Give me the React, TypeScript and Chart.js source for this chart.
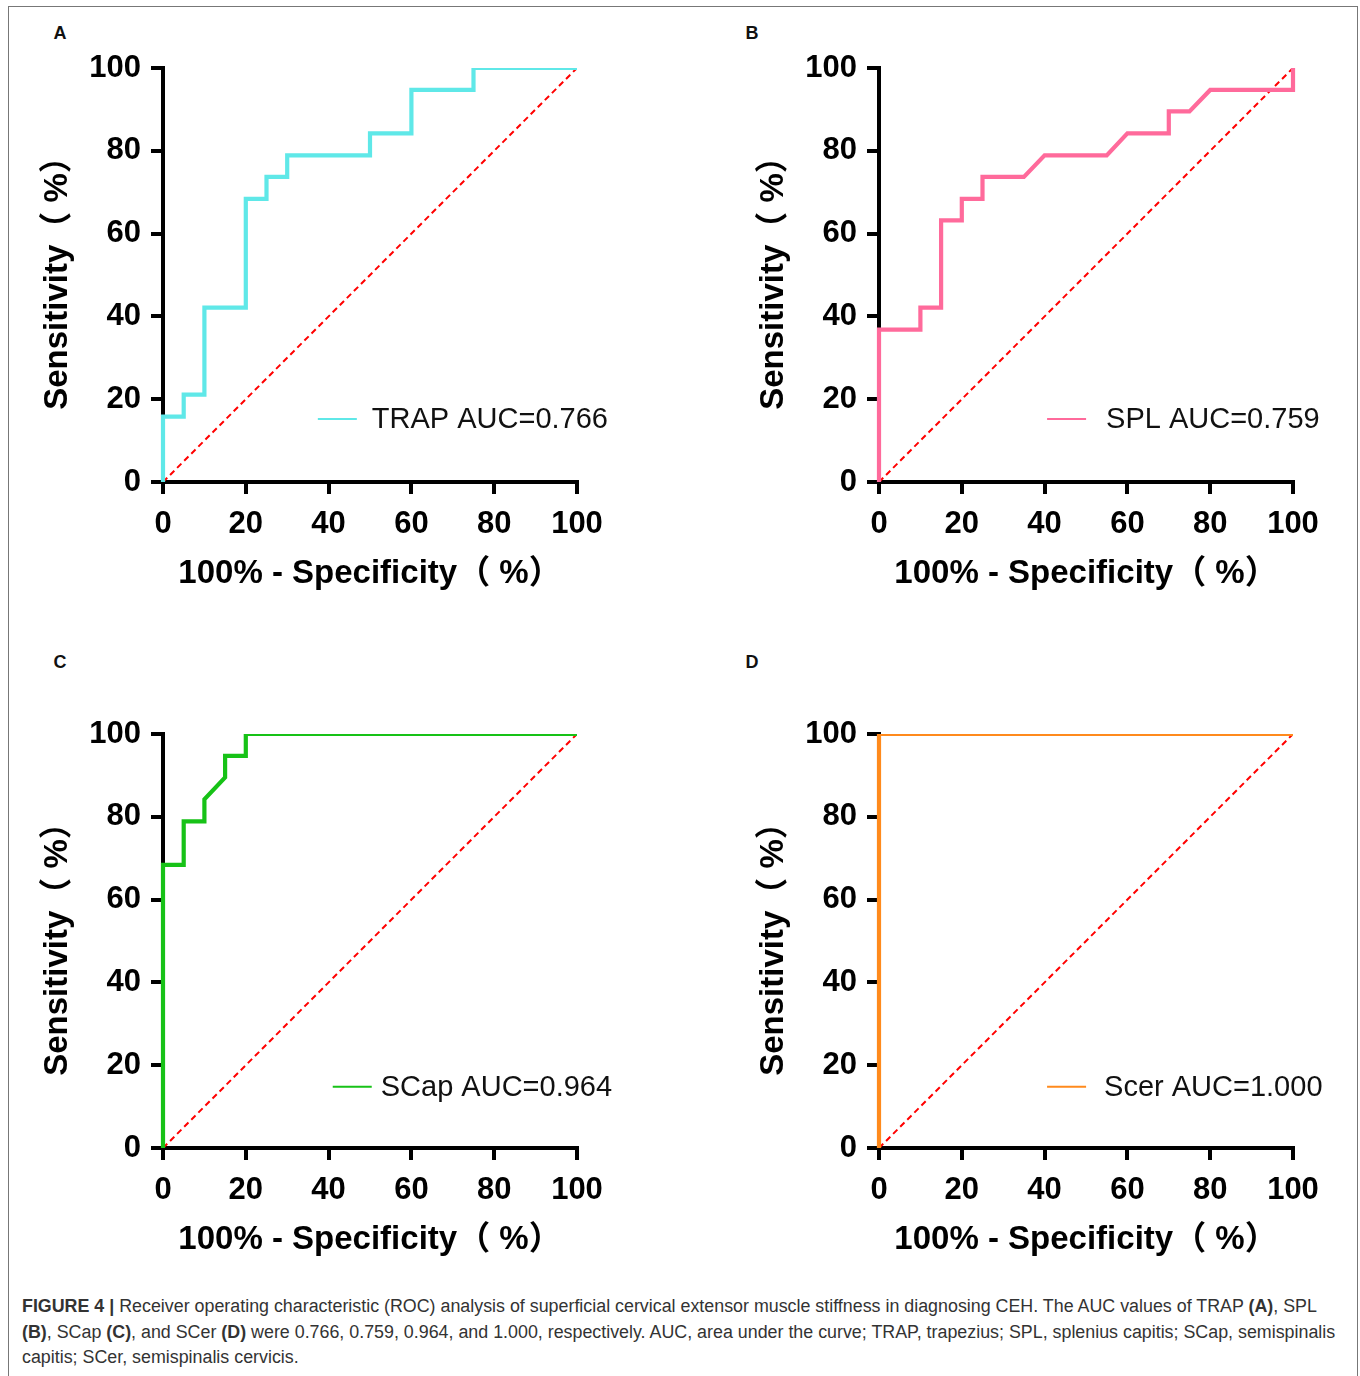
import { useEffect, useRef } from 'react'
import { Chart, registerables } from 'chart.js'

Chart.register(...registerables)

// ROC points: x = 100% - specificity, y = sensitivity (%)
const trapFpr = [0, 0, 5, 5, 10, 10, 20, 20, 25, 25, 30, 30, 50, 50, 60, 60, 75, 75, 100]
const trapTpr = [0, 15.8, 15.8, 21.1, 21.1, 42.1, 42.1, 68.4, 68.4, 73.7, 73.7, 78.9, 78.9, 84.2, 84.2, 94.7, 94.7, 100, 100]

const splFpr = [0, 0, 10, 10, 15, 15, 20, 20, 25, 25, 35, 40, 55, 60, 70, 70, 75, 80, 100, 100]
const splTpr = [0, 36.8, 36.8, 42.1, 42.1, 63.2, 63.2, 68.4, 68.4, 73.7, 73.7, 78.9, 78.9, 84.2, 84.2, 89.5, 89.5, 94.7, 94.7, 100]

const scapFpr = [0, 0, 5, 5, 10, 10, 15, 15, 20, 20, 100]
const scapTpr = [0, 68.4, 68.4, 78.9, 78.9, 84.2, 89.5, 94.7, 94.7, 100, 100]

const scerFpr = [0, 0, 100]
const scerTpr = [0, 100, 100]

// chance line
const refX = [0, 100]
const refY = [0, 100]

const axisTicks = [0, 20, 40, 60, 80, 100]

const TICK_FONT = '"Liberation Sans Narrow", "Liberation Sans", Arial, sans-serif'
const TITLE_FONT = '"Liberation Sans", Arial, "Noto Sans CJK SC", sans-serif'
const TEXT_FONT = '"Liberation Sans", Arial, Helvetica, sans-serif'

if (typeof document !== 'undefined') document.body.style.margin = '0'

interface PanelProps {
  letter: string
  letterX: number
  letterY: number
  left: number
  top: number
  fpr: number[]
  tpr: number[]
  color: string
  label: string
  legendX: number // where the legend swatch starts, in data units
  legendY: number
  legendGap: number
}

const CW = 640
const CH = 620

function RocPanel(p: PanelProps) {
  const ref = useRef<HTMLCanvasElement>(null)
  const chart = useRef<Chart | null>(null)

  useEffect(() => {
    if (!ref.current) return
    chart.current?.destroy()

    const legendPlugin = {
      id: 'inlineLegend',
      afterDatasetsDraw(c: any) {
        const { ctx, scales } = c
        const x0 = scales.x.getPixelForValue(p.legendX)
        const y0 = scales.y.getPixelForValue(p.legendY)
        ctx.save()
        ctx.strokeStyle = p.color
        ctx.lineWidth = 2
        ctx.beginPath()
        ctx.moveTo(x0, y0)
        ctx.lineTo(x0 + 39, y0)
        ctx.stroke()
        ctx.fillStyle = '#111'
        ctx.font = `29px ${TEXT_FONT}`
        ctx.textBaseline = 'middle'
        ctx.textAlign = 'left'
        ctx.fillText(p.label, x0 + 39 + p.legendGap, y0 + 1)
        ctx.restore()
      },
    }

    chart.current = new Chart(ref.current, {
      type: 'scatter',
      data: {
        datasets: [
          {
            data: p.fpr.map((x, i) => ({ x, y: p.tpr[i] })),
            showLine: true,
            borderColor: p.color,
            borderWidth: 4.2,
            pointRadius: 0,
            borderJoinStyle: 'miter',
            borderCapStyle: 'butt',
            clip: { left: 3, top: 0, right: 3, bottom: 3 },
          },
          {
            data: refX.map((x, i) => ({ x, y: refY[i] })),
            showLine: true,
            borderColor: '#ff0000',
            borderWidth: 2,
            borderDash: [6, 4],
            pointRadius: 0,
          },
        ],
      },
      options: {
        responsive: false,
        animation: false,
        events: [],
        layout: { padding: { left: 35, top: 68, right: CW - 577, bottom: CH - 598 } },
        plugins: { legend: { display: false }, tooltip: { enabled: false } },
        scales: {
          x: {
            type: 'linear',
            min: 0,
            max: 100,
            afterBuildTicks: (s: any) => { s.ticks = axisTicks.map(v => ({ value: v })) },
            afterFit: (s: any) => { s.height = 116 },
            ticks: {
              color: '#000',
              padding: 12,
              maxRotation: 0,
              font: { family: TICK_FONT, size: 31, weight: 'bold' },
            },
            grid: { drawOnChartArea: false, drawTicks: true, tickLength: 12, lineWidth: 4, color: '#000' },
            border: { width: 4, color: '#000' },
            title: {
              display: true,
              text: '100% - Specificity（ %）',
              color: '#000',
              font: { family: TITLE_FONT, size: 33, weight: 'bold' },
              padding: { top: 0, bottom: 4 },
            },
          },
          y: {
            type: 'linear',
            min: 0,
            max: 100,
            afterBuildTicks: (s: any) => { s.ticks = axisTicks.map(v => ({ value: v })) },
            afterFit: (s: any) => { s.width = 128 },
            ticks: {
              color: '#000',
              padding: 10,
              font: { family: TICK_FONT, size: 31, weight: 'bold' },
            },
            grid: { drawOnChartArea: false, drawTicks: true, tickLength: 12, lineWidth: 4, color: '#000' },
            border: { width: 4, color: '#000' },
            title: {
              display: true,
              text: 'Sensitivity（ %）',
              color: '#000',
              font: { family: TITLE_FONT, size: 33, weight: 'bold' },
              padding: { top: 3, bottom: 0 },
            },
          },
        },
      },
      plugins: [legendPlugin],
    } as any)

    return () => {
      chart.current?.destroy()
      chart.current = null
    }
  }, [])

  return (
    <>
      <div style={{
        position: 'absolute', left: p.letterX, top: p.letterY,
        transform: 'translate(-50%, -50%)',
        fontFamily: TEXT_FONT, fontWeight: 700, fontSize: 18, color: '#111',
      }}>
        {p.letter}
      </div>
      <canvas
        ref={ref}
        width={CW}
        height={CH}
        style={{ position: 'absolute', left: p.left, top: p.top, width: CW, height: CH }}
      />
    </>
  )
}

const b = (t: string) => <b style={{ fontWeight: 700 }}>{t}</b>

export default function App() {
  return (
    <div style={{
      position: 'relative', width: 1360, height: 1376, background: '#fff', overflow: 'hidden',
    }}>
      {/* frame */}
      <div style={{
        position: 'absolute', left: 8, top: 6, width: 1348, height: 1400,
        borderTop: '1.5px solid #777', borderLeft: '1.5px solid #777', borderRight: '1.5px solid #777',
      }} />

      <RocPanel letter="A" letterX={60} letterY={33} left={0} top={0} fpr={trapFpr} tpr={trapTpr}
        color="#5fe8e8" label="TRAP AUC=0.766" legendX={37.4} legendY={15.2} legendGap={15} />
      <RocPanel letter="B" letterX={752} letterY={33} left={716} top={0} fpr={splFpr} tpr={splTpr}
        color="#ff6a9b" label="SPL AUC=0.759" legendX={40.6} legendY={15.2} legendGap={20} />
      <RocPanel letter="C" letterX={60} letterY={662} left={0} top={666} fpr={scapFpr} tpr={scapTpr}
        color="#17c217" label="SCap AUC=0.964" legendX={41} legendY={14.8} legendGap={9} />
      <RocPanel letter="D" letterX={752} letterY={662} left={716} top={666} fpr={scerFpr} tpr={scerTpr}
        color="#ff8a1c" label="Scer AUC=1.000" legendX={40.6} legendY={14.8} legendGap={18} />

      {/* caption */}
      <div style={{
        position: 'absolute', left: 22, top: 1294, width: 1330,
        fontFamily: TEXT_FONT, fontSize: 17.85, lineHeight: '25.5px', color: '#333', whiteSpace: 'nowrap',
      }}>
        <div>{b('FIGURE 4 |')} Receiver operating characteristic (ROC) analysis of superficial cervical extensor muscle stiffness in diagnosing CEH. The AUC values of TRAP {b('(A)')}, SPL</div>
        <div>{b('(B)')}, SCap {b('(C)')}, and SCer {b('(D)')} were 0.766, 0.759, 0.964, and 1.000, respectively. AUC, area under the curve; TRAP, trapezius; SPL, splenius capitis; SCap, semispinalis</div>
        <div>capitis; SCer, semispinalis cervicis.</div>
      </div>
    </div>
  )
}
